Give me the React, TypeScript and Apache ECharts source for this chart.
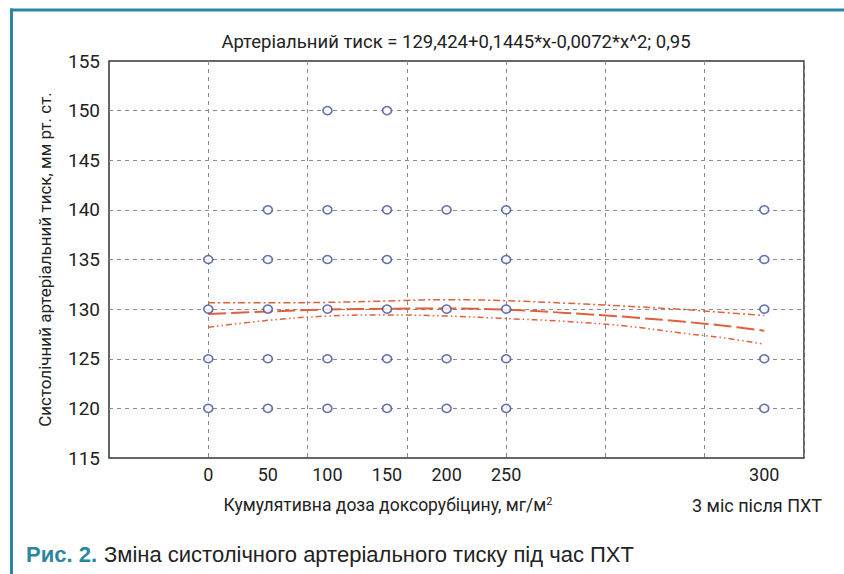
import React, { useEffect, useRef } from "react";
import * as echarts from "echarts";

// x positions of the measurement groups (dose in mg/m2; last group = 3 months after chemo)
const groupX = [0, 50, 100, 150, 200, 250, 466.67];
const groupLabels = ["0", "50", "100", "150", "200", "250", "300"];
const groupValues = [
  [135, 130, 125, 120],
  [140, 135, 130, 125, 120],
  [150, 140, 135, 130, 125, 120],
  [150, 140, 135, 130, 125, 120],
  [140, 130, 125, 120],
  [140, 135, 130, 125, 120],
  [140, 135, 130, 125, 120],
];

// regression curve and 0.95 confidence band
const curveX = [0, 50, 100, 150, 200, 250, 300, 350, 400, 433, 466.67];
const fitValues = [129.5, 129.76, 129.95, 130.04, 130.06, 129.94, 129.62, 129.22, 128.72, 128.33, 127.82];
const upperValues = [130.64, 130.64, 130.68, 130.82, 130.95, 130.85, 130.6, 130.3, 129.95, 129.66, 129.36];
const lowerValues = [128.17, 128.87, 129.3, 129.42, 129.3, 129.05, 128.76, 128.3, 127.55, 127.1, 126.45];

const yTicks = { min: 115, max: 155, step: 5 };
const xRange = { min: -250 / 3, max: 500, step: 250 / 3 };

const titleText = "Артеріальний тиск = 129,424+0,1445*x-0,0072*x^2; 0,95";
const yName = "Систолічний артеріальний тиск, мм рт. ст.";
const xName = "Кумулятивна доза доксорубіцину, мг/м";
const afterName = "3 міс після ПХТ";
const captionBold = "Рис. 2.";
const captionText = "Зміна систолічного артеріального тиску під час ПХТ";

const TEAL = "#2b86a0";
const RED = "#e0603c";
const BLUE = "#3d4c9e";
const FONT = "Roboto";

export default function App() {
  const ref = useRef<HTMLDivElement>(null);
  useEffect(() => {
    if (!ref.current) return;
    const chart = echarts.init(ref.current, null, { renderer: "svg" });
    const scatterData: number[][] = [];
    groupX.forEach((x, i) => groupValues[i].forEach((v) => scatterData.push([x, v])));
    const pairs = (vals: number[]) => curveX.map((x, i) => [x, vals[i]]);
    const labelFor = (v: number) => {
      const idx = groupX.findIndex((g) => Math.abs(g - v) < 0.5);
      return idx >= 0 ? groupLabels[idx] : "";
    };
    chart.setOption({
      animation: false,
      backgroundColor: "#fff",
      grid: {
        left: 109,
        right: 40,
        top: 61,
        bottom: 116,
        show: true,
        borderColor: "#333",
        borderWidth: 1.5,
        backgroundColor: "transparent",
      },
      xAxis: {
        type: "value",
        min: xRange.min,
        max: xRange.max,
        interval: xRange.step,
        axisLine: { show: false },
        axisTick: { show: false },
        splitLine: {
          show: true,
          showMinLine: false,
          showMaxLine: false,
          lineStyle: { color: "#8a8a8a", type: [4, 4], width: 1 },
        },
        axisLabel: {
          customValues: groupX,
          formatter: (v: number) => labelFor(v),
          fontFamily: FONT,
          fontSize: 18,
          color: "#222",
          margin: 7,
        },
      },
      yAxis: {
        type: "value",
        min: yTicks.min,
        max: yTicks.max,
        interval: yTicks.step,
        axisLine: { show: false },
        axisTick: { show: false },
        splitLine: {
          show: true,
          showMinLine: false,
          showMaxLine: false,
          lineStyle: { color: "#8a8a8a", type: [4, 4], width: 1 },
        },
        axisLabel: { fontFamily: FONT, fontSize: 19, color: "#222", margin: 9 },
        name: yName,
        nameLocation: "middle",
        nameRotate: 90,
        nameGap: 56,
        nameTextStyle: { fontFamily: FONT, fontSize: 17, color: "#222" },
      },
      series: [
        {
          type: "line",
          data: pairs(upperValues),
          smooth: 0.4,
          showSymbol: false,
          lineStyle: { color: RED, width: 1.5, type: [7, 3, 2, 3] },
          z: 2,
        },
        {
          type: "line",
          data: pairs(lowerValues),
          smooth: 0.4,
          showSymbol: false,
          lineStyle: { color: RED, width: 1.5, type: [6, 3, 1.5, 3, 1.5, 3] },
          z: 2,
        },
        {
          type: "line",
          data: pairs(fitValues),
          smooth: 0.4,
          showSymbol: false,
          lineStyle: { color: RED, width: 2, type: [18, 5] },
          z: 2,
        },
        {
          type: "scatter",
          data: scatterData,
          symbol: "circle",
          symbolSize: [9, 8],
          itemStyle: { color: "#fff", borderColor: BLUE, borderWidth: 1.6 },
          z: 3,
        },
      ],
      graphic: [
        {
          type: "line",
          shape: { x1: 10, y1: 10, x2: 844, y2: 10 },
          style: { stroke: TEAL, lineWidth: 3 },
        },
        {
          type: "line",
          shape: { x1: 11.5, y1: 8.5, x2: 11.5, y2: 574 },
          style: { stroke: TEAL, lineWidth: 3 },
        },
        {
          type: "text",
          x: 456,
          y: 42,
          style: {
            text: titleText,
            fontFamily: FONT,
            fontSize: 18.5,
            fill: "#222",
            textAlign: "center",
            textVerticalAlign: "middle",
          },
        },
        {
          type: "text",
          x: 388,
          y: 505,
          style: {
            text: "{a|" + xName + "}{s|2}",
            textAlign: "center",
            textVerticalAlign: "middle",
            rich: {
              a: { fontFamily: FONT, fontSize: 17.5, fill: "#222", color: "#222" },
              s: { fontFamily: FONT, fontSize: 11, fill: "#222", color: "#222", verticalAlign: "top", padding: [0, 0, 8, 0] },
            },
          },
        },
        {
          type: "text",
          x: 757,
          y: 505,
          style: {
            text: afterName,
            fontFamily: FONT,
            fontSize: 18,
            fill: "#222",
            textAlign: "center",
            textVerticalAlign: "middle",
          },
        },
        {
          type: "text",
          x: 26,
          y: 554,
          style: {
            text: "{b|" + captionBold + "}{n|" + captionText + "}",
            textVerticalAlign: "middle",
            rich: {
              b: { fontFamily: "Liberation Sans", fontWeight: "bold", fontSize: 22, color: TEAL, fill: TEAL, padding: [0, 7, 0, 0] },
              n: { fontFamily: "Liberation Sans", fontSize: 22, color: "#222", fill: "#222" },
            },
          },
        },
      ],
    });
    return () => chart.dispose();
  }, []);
  return (
    <div
      ref={ref}
      style={{ position: "fixed", left: 0, top: 0, width: 844, height: 574 }}
    />
  );
}
